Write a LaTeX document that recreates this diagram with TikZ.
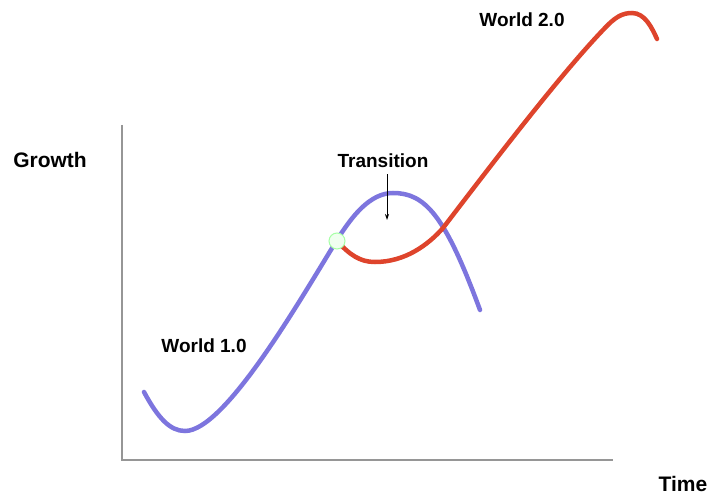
\documentclass[tikz,border=0pt]{standalone}
\usepackage{fontspec}
\setmainfont{Liberation Sans}
\usetikzlibrary{arrows.meta}
\definecolor{oldblue}{RGB}{125,117,222}
\definecolor{newred}{RGB}{222,68,44}
\definecolor{axisgray}{RGB}{150,150,150}
\tikzset{
  lbl/.style={font=\bfseries\fontsize{19}{22}\selectfont,inner sep=0pt},
  biglbl/.style={font=\bfseries\fontsize{21}{24}\selectfont,inner sep=0pt},
  axisline/.style={axisgray,line width=1.6pt},
  curve/.style={line width=4.5pt,line cap=round}
}
\begin{document}
\begin{tikzpicture}[x=1pt,y=-1pt]
  \useasboundingbox (0,0) rectangle (711,497);
  % axes
  \coordinate (origin) at (122,460);
  \coordinate (ytop) at (122,125);
  \coordinate (xend) at (613,460);
  \draw[axisline] (ytop) -- (origin) -- (xend);
  \node[biglbl] (growth) at (50,160) {Growth};
  \node[biglbl] (time) at (683,484) {Time};
  % world 1.0
  \draw[curve,oldblue] (144,392) .. controls (158,418) and (170,431) .. (185,431)
    .. controls (225,431) and (300,300) .. (337,240)
    .. controls (352,216) and (370,193) .. (393,193)
    .. controls (425,193) and (445,215) .. (480,310);
  % world 2.0
  \draw[curve,newred] (337,241) .. controls (350,255) and (360,262) .. (375,262)
    .. controls (405,262) and (428,245) .. (443,228)
    .. controls (495,160) and (560,75) .. (603,30)
    .. controls (615,17) and (622,13) .. (632,13)
    .. controls (645,13) and (652,28) .. (657,39);
  \node[circle,draw=green!35!white,fill=green!6,line width=1pt,
    minimum size=16pt,inner sep=0pt] (switch) at (337,241) {};
  % labels
  \node[lbl] (transition) at (383,161) {Transition};
  \coordinate (dip) at (387,220);
  \draw[-{Stealth[length=6pt,width=4pt]},line width=0.8pt]
    (transition.south -| dip) ++(0,6) -- (dip);
  \node[lbl] (world1) at (204,346) {World 1.0};
  \node[lbl] (world2) at (522,20) {World 2.0};
\end{tikzpicture}
\end{document}
